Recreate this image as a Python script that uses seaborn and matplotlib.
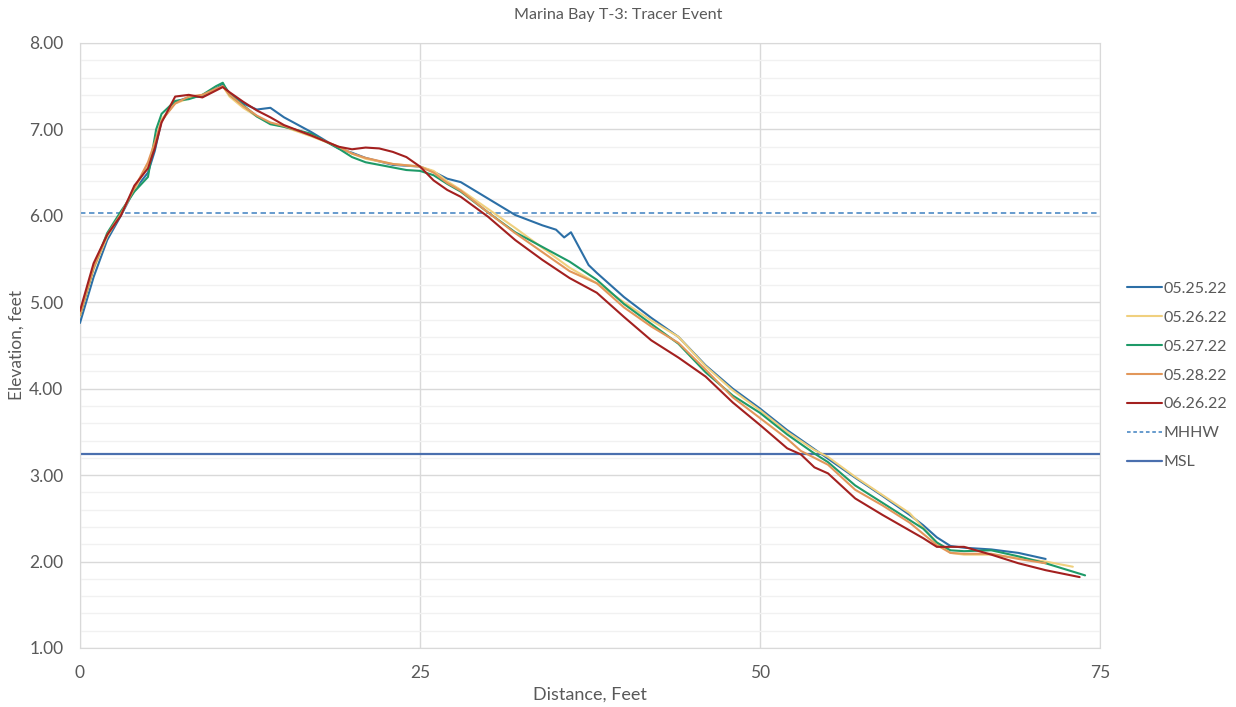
import pandas as pd
import seaborn as sns
import numpy as np
import matplotlib.pyplot as plt
from matplotlib.ticker import MultipleLocator, FormatStrFormatter
from matplotlib.lines import Line2D

# survey profiles (distance in feet, elevation in feet)
x_0525 = [0, 1, 2, 3, 4, 5, 5.5, 6, 7, 8, 9, 10, 10.5, 11, 12, 13, 14, 15, 17, 19, 20, 21, 23, 25, 26, 27, 28,
          30, 32, 34, 35, 35.6, 36.1, 37.4, 38, 40, 42, 44, 46, 48, 50, 52, 54, 55, 57, 59, 61, 62, 63, 64, 65,
          67, 69, 71]
y_0525 = [4.76, 5.29, 5.72, 6.00, 6.30, 6.50, 6.75, 7.10, 7.32, 7.37, 7.38, 7.47, 7.52, 7.42, 7.30, 7.23, 7.25,
          7.14, 6.97, 6.78, 6.73, 6.67, 6.59, 6.57, 6.51, 6.43, 6.39, 6.20, 6.01, 5.89, 5.84, 5.75, 5.81, 5.43,
          5.34, 5.06, 4.82, 4.60, 4.27, 4.00, 3.77, 3.52, 3.30, 3.19, 2.97, 2.76, 2.54, 2.42, 2.28, 2.18, 2.16,
          2.14, 2.10, 2.03]

x_0526 = [0, 1, 2, 3, 4, 5, 5.5, 6, 7, 8, 9, 10, 10.5, 11, 12, 13, 14, 15, 17, 19, 20, 21, 23, 25, 26, 27, 28,
          30, 32, 34, 36, 38, 40, 42, 44, 46, 48, 50, 52, 54, 55, 57, 59, 61, 63, 64, 65, 67, 69, 71, 73]
y_0526 = [4.84, 5.38, 5.76, 6.02, 6.30, 6.60, 6.82, 7.12, 7.30, 7.36, 7.40, 7.46, 7.50, 7.38, 7.25, 7.15, 7.07,
          7.03, 6.92, 6.80, 6.72, 6.66, 6.60, 6.57, 6.52, 6.40, 6.30, 6.08, 5.86, 5.63, 5.40, 5.22, 5.00, 4.79,
          4.60, 4.26, 3.98, 3.75, 3.50, 3.29, 3.21, 2.98, 2.77, 2.56, 2.22, 2.10, 2.08, 2.08, 2.04, 2.00, 1.94]

x_0527 = [0, 1, 2, 3, 4, 5, 5.6, 6, 7, 8, 9, 10, 10.5, 11, 12, 13, 14, 15, 17, 19, 20, 21, 23, 24, 25, 26, 27,
          28, 30, 32, 34, 36, 38, 40, 42, 44, 46, 48, 50, 52, 54, 55, 57, 59, 61, 62, 63, 64, 65, 67, 69, 71, 73.9]
y_0527 = [4.85, 5.40, 5.80, 6.05, 6.28, 6.45, 7.00, 7.18, 7.33, 7.35, 7.40, 7.50, 7.54, 7.40, 7.28, 7.15, 7.06,
          7.03, 6.95, 6.78, 6.68, 6.62, 6.56, 6.53, 6.52, 6.47, 6.37, 6.28, 6.04, 5.81, 5.64, 5.47, 5.26, 4.98,
          4.75, 4.52, 4.19, 3.92, 3.72, 3.47, 3.25, 3.15, 2.88, 2.68, 2.48, 2.38, 2.22, 2.13, 2.12, 2.13, 2.06,
          1.98, 1.84]

x_0528 = [0, 1, 2, 3, 4, 5, 5.5, 6, 7, 8, 9, 10, 10.5, 11, 12, 13, 14, 15, 17, 19, 20, 21, 23, 25, 26, 27, 28,
          30, 32, 34, 36, 38, 40, 42, 44, 46, 48, 50, 52, 53, 55, 57, 59, 61, 63, 64, 65, 67, 69, 71]
y_0528 = [4.85, 5.40, 5.78, 6.02, 6.32, 6.62, 6.85, 7.10, 7.30, 7.38, 7.40, 7.47, 7.50, 7.40, 7.27, 7.16, 7.08,
          7.04, 6.93, 6.80, 6.72, 6.67, 6.60, 6.57, 6.50, 6.38, 6.29, 6.04, 5.80, 5.58, 5.36, 5.22, 4.94, 4.72,
          4.53, 4.22, 3.90, 3.66, 3.42, 3.28, 3.12, 2.83, 2.65, 2.45, 2.19, 2.10, 2.09, 2.09, 2.03, 1.98]

x_0626 = [0, 1, 2, 3, 4, 5, 5.5, 6, 7, 8, 9, 10, 10.5, 11, 12, 13, 14, 15, 17, 19, 20, 21, 22, 23, 24, 25, 26,
          27, 28, 30, 32, 34, 36, 38, 40, 42, 44, 46, 48, 50, 52, 53, 54, 55, 57, 59, 61, 62, 63, 64, 65, 67, 69,
          71, 73.5]
y_0626 = [4.90, 5.45, 5.78, 6.00, 6.35, 6.55, 6.78, 7.08, 7.38, 7.40, 7.37, 7.45, 7.49, 7.43, 7.32, 7.22, 7.14,
          7.05, 6.93, 6.80, 6.77, 6.79, 6.78, 6.74, 6.68, 6.57, 6.41, 6.30, 6.22, 5.99, 5.72, 5.49, 5.28, 5.11,
          4.83, 4.56, 4.36, 4.14, 3.84, 3.58, 3.31, 3.24, 3.09, 3.02, 2.73, 2.54, 2.36, 2.27, 2.17, 2.17, 2.17,
          2.08, 1.98, 1.90, 1.82]

surveys = ['05.25.22', '05.26.22', '05.27.22', '05.28.22', '06.26.22']
colors = ['#2c6fa6', '#f0d07e', '#1e9a68', '#e2975a', '#a3201f']
mhhw = 6.03
msl = 3.24

frames = []
for name, xs, ys in zip(surveys, [x_0525, x_0526, x_0527, x_0528, x_0626],
                        [y_0525, y_0526, y_0527, y_0528, y_0626]):
    frames.append(pd.DataFrame({'Distance': xs, 'Elevation': ys, 'Survey': name}))
df = pd.concat(frames, ignore_index=True)

sns.set_style('white')
plt.rcParams['font.family'] = ['Lato', 'DejaVu Sans']
txt = '#595959'

fig = plt.figure(figsize=(12.36, 7.07), dpi=100)
ax = fig.add_axes([0.0647, 0.0835, 0.8253, 0.8557])

sns.lineplot(data=df, x='Distance', y='Elevation', hue='Survey', hue_order=surveys,
             palette=colors, sort=False, estimator=None, linewidth=1.5, ax=ax, legend=False, zorder=3)
ax.axhline(mhhw, color='#5b93c9', linestyle=(0, (3, 2)), linewidth=1.3, zorder=2)
ax.axhline(msl, color='#4a6fae', linewidth=1.6, zorder=2)

ax.set_xlim(0, 75)
ax.set_ylim(1, 8)
ax.xaxis.set_major_locator(MultipleLocator(25))
ax.yaxis.set_major_locator(MultipleLocator(1))
ax.yaxis.set_minor_locator(MultipleLocator(0.2))
ax.yaxis.set_major_formatter(FormatStrFormatter('%.2f'))
ax.grid(which='major', color='#d9d9d9', linewidth=1)
ax.grid(which='minor', axis='y', color='#f1f1f1', linewidth=1)
ax.set_axisbelow(True)
for s in ax.spines.values():
    s.set_color('#d9d9d9')
ax.tick_params(axis='y', which='both', length=0, labelsize=12.5, labelcolor=txt, pad=12)
ax.tick_params(axis='x', which='both', length=0, labelsize=12.5, labelcolor=txt, pad=12)

ax.set_xlabel('Distance, Feet', fontsize=13, color=txt, labelpad=4)
ax.set_ylabel('Elevation, feet', fontsize=12.5, color=txt)
ax.yaxis.set_label_coords(-0.054, 0.5)
fig.suptitle('Marina Bay T-3: Tracer Event', fontsize=11.6, color=txt, y=0.988)

handles = [Line2D([], [], color=c, linewidth=1.5) for c in colors]
handles.append(Line2D([], [], color='#5b93c9', linestyle=(0, (2, 1.5)), linewidth=1.3))
handles.append(Line2D([], [], color='#4a6fae', linewidth=1.6))
labels = surveys + ['MHHW', 'MSL']
leg = fig.legend(handles, labels, loc='center left', bbox_to_anchor=(0.912, 0.469), frameon=False,
                 fontsize=11.5, handlelength=2.2, handletextpad=0.1, labelspacing=0.92,
                 borderpad=0, borderaxespad=0)
for t in leg.get_texts():
    t.set_color(txt)

fig.savefig('out.png', dpi=100)
